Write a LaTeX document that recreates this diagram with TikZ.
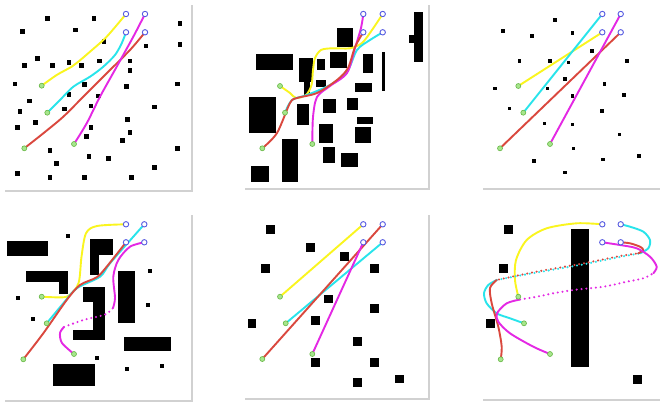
\documentclass[tikz,border=0pt]{standalone}
\usetikzlibrary{positioning}

\definecolor{trajyellow}{RGB}{250,245,30}
\definecolor{trajcyan}{RGB}{40,228,235}
\definecolor{trajred}{RGB}{218,72,62}
\definecolor{trajmagenta}{RGB}{228,40,228}
\definecolor{startgreen}{RGB}{120,215,80}
\definecolor{goalblue}{RGB}{85,90,225}

\begin{document}
\begin{tikzpicture}[
  x=1pt, y=-1pt,
  panel/.style={fill=white},
  panelshadow/.style={fill=black!18},
  obst/.style={fill=black},
  traj/.style={line width=1.9pt, line cap=round, line join=round},
  dotpart/.style={line width=2.3pt, line cap=round, dash pattern=on 0pt off 4.8pt},
  ytraj/.style={traj, draw=trajyellow},
  ctraj/.style={traj, draw=trajcyan},
  rtraj/.style={traj, draw=trajred},
  mtraj/.style={traj, draw=trajmagenta},
  startpt/.style={circle, draw=startgreen!85!black, fill=startgreen!65, line width=0.6pt, inner sep=0pt, minimum size=5pt},
  goalpt/.style={circle, draw=goalblue, fill=white, line width=0.9pt, inner sep=0pt, minimum size=5.4pt}
]
\useasboundingbox[fill=white] (0,0) rectangle (660,402);

% panels with soft shadow
\foreach \xa/\ya/\xb/\yb [count=\i] in {3/3/191/190, 243/3/428/188, 481/4/664/188, 3/213/191/400, 243/213/428/398, 481/213/664/399}{
  \fill[panelshadow] (\xa+1.5,\ya+1.5) rectangle (\xb+1.5,\yb+1.5);
  \fill[panel] (\xa,\ya) rectangle (\xb,\yb);
}

% ---- panel 1: scattered small obstacles
\foreach \x/\y in {47.7/18.3, 94/18.3, 180/23.3, 22.7/31.7, 75.3/30, 104/41.7, 146/46, 180/44.3,
  37.7/58.3, 24.3/65.7, 52.3/65.7, 69/62.7, 81.7/65.7, 99.3/61, 130/61, 130/70.3, 15/84, 84.3/84.3,
  126.7/86.7, 177.7/84, 29.3/101, 69/94.3, 98.3/96, 20/111.7, 64.3/109, 91/106, 154.3/107,
  17.7/127.3, 35.7/122.7, 91/127.3, 127.7/119.3, 130/132.3, 86.7/136.7, 122.3/140.3, 177.7/148.3,
  50/150.3, 89/156.7, 108.3/158.7, 56.7/163.3, 154.3/167.7, 17.7/173.3, 50/177.7, 84.3/177.7, 131.7/177.7}
  \fill[obst] (\x-2.3,\y-2.3) rectangle ++(4.6,4.6);

\draw[ytraj] plot[smooth] coordinates {(41.7,85.7) (56.7,75) (71.7,66.7) (78.3,61.7) (90,51.7) (106.7,36.7) (126,14)};
\draw[ctraj] plot[smooth] coordinates {(47.3,112.7) (60,100) (73.3,86.7) (90,76.7) (103.3,66.7) (115,55) (121.7,43.3) (126,32.3)};
\draw[rtraj] plot[smooth] coordinates {(24.3,148.3) (43.3,133.3) (63.3,116.7) (83.3,96.7) (106.7,73.3) (130,50) (145,32.3)};
\draw[mtraj] plot[smooth] coordinates {(74,144) (86.7,123.3) (100,96.7) (116.7,66.7) (133.3,36.7) (145,14)};

% ---- panel 2: block obstacles
\foreach \xa/\ya/\xb/\yb in {336.7/27.7/353.3/46.7, 414.3/12.3/423.3/62.3, 409.3/35/414.3/42.7,
  256/54.3/293.3/70, 299.3/57.7/312.7/81.7, 304/81.7/310/95, 317.3/59.3/325/70, 330/51.7/346.7/68.3,
  362.7/54.3/372.7/72.7, 381.7/51.7/385/90.7, 316/80/326/86.7, 355/83.3/371.7/91.7,
  249.3/96.7/276/132.7, 296.7/104/309.3/125, 322.7/99.3/336/113.3, 346.7/98.3/358.3/110,
  356.7/116.7/372.7/124, 319.3/124/332.7/142.7, 355/127.3/370.7/142.7, 281.7/139.3/298.3/181.7,
  322.7/147.3/335/162.7, 341/152.7/358.3/166.7, 251/165.7/269.3/181.7}
  \fill[obst] (\xa,\ya) rectangle (\xb,\yb);

\draw[ytraj] plot[smooth] coordinates {(280,86) (290,93) (296,98) (306,95) (311.5,85) (313,70) (315,58) (321,50) (332,48.3) (350,48.3) (362,43) (372,30) (382.7,14)};
\draw[ctraj] plot[smooth] coordinates {(285,112.7) (292,100) (307,95) (330,85) (347,72) (357,50) (370,40) (382.7,32.3)};
\draw[mtraj] plot[smooth] coordinates {(312.3,144) (313,117) (317,97) (330,86) (347,73) (355,48) (361,28) (363.3,14)};
\draw[rtraj] plot[smooth] coordinates {(262.3,148.3) (277,133) (290,103) (297,98) (317,93) (337,80) (348,68) (355,47) (363.3,32.3)};

% ---- panel 3: sparse tiny obstacles
\foreach \x/\y in {555/20, 502.7/31, 531.7/35.7, 572.3/33, 591.7/50.7, 519.3/60.7, 550/60.7, 568.3/62.3,
  626.7/60.7, 565/79, 547.3/88.3, 604.3/83.7, 494.7/88.3, 572.3/95.7, 624/95, 509.3/108.3, 601.7/111,
  544.3/123.3, 572.3/124.3, 619.3/134.3, 573.3/148.3, 534/161, 602.7/159.3, 639/155.7, 565/172.3}
  \fill[obst] (\x-1.8,\y-1.8) rectangle ++(3.6,3.6);

\draw[ytraj] (518.3,86) -- (602.3,32.3);
\draw[ctraj] (523.3,112.7) -- (602.3,14);
\draw[rtraj] (500,148.3) -- (620.7,32.3);
\draw[mtraj] (550,144) -- (620.7,14);

% ---- panel 4: walls and L shapes
\foreach \xa/\ya/\xb/\yb in {7.3/240.7/48.3/256, 90/239/112.7/255, 90/255/99/275,
  26/270.7/68.3/281.7, 59.3/281.7/68.3/294, 118.3/271/135/323.3,
  93.3/287.3/105/340, 82.7/287.3/93.3/301.7, 73.3/330/93.3/340,
  124/336.7/170.7/350.7, 52.7/364/95/385.7}
  \fill[obst] (\xa,\ya) rectangle (\xb,\yb);
\foreach \x/\y in {67.7/235.7, 150/271, 18.3/298.3, 147.7/305, 33.3/319, 96.7/358.3, 126.7/369.3, 162.3/365.7}
  \fill[obst] (\x-1.9,\y-1.9) rectangle ++(3.8,3.8);

\draw[ytraj] plot[smooth] coordinates {(41.7,296.7) (56.7,297.3) (68.3,296) (78.5,283.3) (81.5,256.7) (86,233.3) (97,226) (126,224.3)};
\draw[ctraj] plot[smooth] coordinates {(46.7,323.3) (63.3,303.3) (76.7,288.3) (100,276.7) (110,263.3) (133.3,236.7) (144.3,224.3)};
\draw[rtraj] plot[smooth] coordinates {(23.3,359.3) (43.3,333.3) (66.7,300) (80,285) (96.7,277.3) (106.7,266.7) (126,242.3)};
\draw[mtraj] plot[smooth] coordinates {(74,354) (62,343) (60,333) (64,327)};
\draw[mtraj, dotpart] plot[smooth] coordinates {(64,327) (83.3,320) (105,314.5) (113,308)};
\draw[mtraj] plot[smooth] coordinates {(113,308) (115,298) (113.3,276.7) (118.3,260) (130,246.7) (144.3,242.3)};

% ---- panel 5: mid-size squares
\foreach \x/\y in {270.7/229.3, 310.7/247.7, 344.3/256.7, 265.7/268.3, 374.3/268.3, 328.3/299, 374.3/308.3,
  252/323.3, 315.7/320.7, 357.7/341.7, 315.7/362.3, 374.3/362.3, 357.7/382.7, 399.3/379}
  \fill[obst] (\x-4.3,\y-4.3) rectangle ++(8.6,8.6);

\draw[ytraj] (280,296.7) -- (363.3,224.3);
\draw[ctraj] (285.7,323.3) -- (382.7,242.3);
\draw[rtraj] (262.3,359) -- (382.7,224.3);
\draw[mtraj] (312.3,354) -- (363.3,242.3);

% ---- panel 6: one tall wall
\fill[obst] (570.7,229) rectangle (589,366.7);
\foreach \x/\y in {508.3/229.3, 503.3/268.3, 490/323.3, 637.7/379}
  \fill[obst] (\x-4.5,\y-4.5) rectangle ++(9,9);

\draw[ytraj] plot[smooth] coordinates {(518.3,296.7) (515,280) (516,260) (526.7,240) (546.7,228.3) (576.7,223.3) (602.3,224.3)};
\draw[ctraj] plot[smooth] coordinates {(524,323.3) (510,318.3) (496.7,313.3) (486.7,303.3) (484,293.3) (488.3,285) (496.7,280)};
\draw[ctraj, dotpart] plot[smooth] coordinates {(496.7,280) (520,275.5) (540,272) (560,268.5) (580,265) (600,261) (620,257) (640,253.3)};
\draw[ctraj] plot[smooth] coordinates {(640,253.3) (648.3,248.3) (650,240) (643.3,231.7) (630,226.7) (620.7,224.3)};
\draw[rtraj] plot[smooth] coordinates {(500.7,359.3) (501.7,346.7) (498.3,326.7) (491.7,303.3) (490,288) (496.7,280)};
\draw[rtraj, dotpart, dash phase=2.4pt] plot[smooth] coordinates {(496.7,280) (520,275) (540,271) (560,267.5) (580,264) (600,260) (620,256) (638.3,253.3)};
\draw[rtraj] plot[smooth] coordinates {(638.3,253.3) (643.3,250) (640,246.7) (630,243.3) (620.7,242.3)};
\draw[mtraj] plot[smooth] coordinates {(550,354) (533.3,346.7) (510,333.3) (498.3,321.7) (497,313.3) (506.7,303.3) (520,299.5)};
\draw[mtraj, dotpart] plot[smooth] coordinates {(520,299.5) (536.7,296.7) (553.3,293.3) (573.3,290) (603.3,286.7) (626.7,281.7) (643.3,278.3) (653.3,273.3)};
\draw[mtraj] plot[smooth] coordinates {(653.3,273.3) (656.7,266.7) (650,256.7) (636.7,248.3) (620,245) (602.3,242.3)};

% start and goal markers
\foreach \x/\y [count=\k] in {41.7/85.7, 47.3/112.7, 24.3/148.3, 74/144,
  280/86, 285/112.7, 262.3/148.3, 312.3/144,
  518.3/86, 523.3/112.7, 500/148.3, 550/144,
  41.7/296.7, 46.7/323.3, 23.3/359.3, 74/354,
  280/296.7, 285.7/323.3, 262.3/359, 312.3/354,
  518.3/296.7, 524/323.3, 500.7/359.3, 550/354}
  \node[startpt] (start\k) at (\x,\y) {};
\foreach \x/\y [count=\k] in {126/14, 145/14, 126/32.3, 145/32.3,
  363.3/14, 382.7/14, 363.3/32.3, 382.7/32.3,
  602.3/14, 620.7/14, 602.3/32.3, 620.7/32.3,
  126/224.3, 144.3/224.3, 126/242.3, 144.3/242.3,
  363.3/224.3, 382.7/224.3, 363.3/242.3, 382.7/242.3,
  602.3/224.3, 620.7/224.3, 602.3/242.3, 620.7/242.3}
  \node[goalpt] (goal\k) at (\x,\y) {};
\end{tikzpicture}
\end{document}
